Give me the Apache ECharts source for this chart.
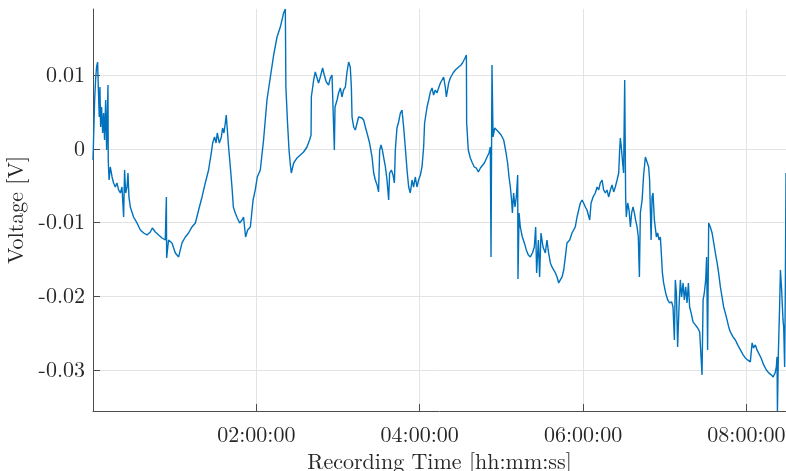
<!DOCTYPE html>
<html>
<head>
<meta charset="utf-8">
<script src="https://cdn.jsdelivr.net/npm/echarts@6/dist/echarts.min.js"></script>
<style>html,body{margin:0;padding:0;background:#fff;}#c{width:786px;height:471px;}</style>
</head>
<body>
<div id="c"></div>
<script>
// Recording time in minutes since start
const timeMin = [
0.0,0.4,1.2,1.9,2.6,3.4,3.9,4.6,5.1,5.6,6.3,7.1,7.8,8.5,9.3,10.0,11.0,11.2,11.8,12.7,
14.0,15.1,16.4,17.6,18.8,20.1,21.3,22.5,23.2,24.0,25.0,25.7,26.4,27.4,29.8,32.3,34.8,37.2,39.7,42.1,
43.6,45.8,48.2,50.7,53.1,53.9,54.1,55.5,58.0,60.5,62.9,65.4,67.8,70.2,72.7,75.2,77.6,80.1,82.5,84.9,
86.9,87.9,89.3,90.4,91.3,92.8,94.3,95.2,96.2,97.2,97.9,98.7,99.6,100.9,102.1,103.1,104.5,106.0,107.7,109.5,
110.6,112.1,113.6,115.6,117.6,119.2,120.7,122.9,125.3,127.8,130.3,132.7,135.2,137.6,140.0,141.3,141.7,142.8,144.0,145.0,
145.7,147.4,149.9,152.3,154.7,157.2,159.1,160.2,160.4,162.1,163.3,164.6,165.7,167.0,168.7,169.9,171.4,173.1,174.3,175.6,
176.8,177.3,177.8,179.3,180.4,181.7,182.9,184.1,185.4,186.6,187.8,189.0,189.8,190.3,191.5,192.7,194.0,195.1,196.4,197.6,
198.8,200.1,201.3,203.2,205.0,206.2,207.4,208.7,209.8,210.6,211.6,212.6,213.5,214.8,216.0,217.2,217.9,219.2,220.4,221.4,
222.1,223.3,224.5,225.8,227.0,228.2,229.4,230.7,231.9,233.1,234.4,235.5,236.8,238.0,239.2,240.5,241.7,242.9,243.6,245.4,
246.6,247.8,249.1,250.2,251.5,252.7,253.9,255.2,257.6,258.8,259.6,261.3,262.5,264.5,266.2,267.4,268.6,270.4,271.8,273.3,
274.3,274.5,275.7,277.2,278.7,280.1,281.6,283.1,284.6,286.0,287.5,289.5,290.9,291.9,292.4,293.1,293.9,295.1,296.3,298.0,
299.8,301.7,303.1,304.6,305.6,306.6,307.5,308.1,309.0,310.0,311.0,312.0,312.2,313.0,313.9,315.4,316.9,318.3,319.8,321.3,
322.8,324.2,325.2,325.9,327.2,328.1,329.1,330.6,332.3,333.5,334.7,336.0,337.2,338.4,339.7,340.9,342.1,343.3,344.6,345.8,
347.0,348.2,350.2,351.9,353.1,354.3,355.6,356.8,358.0,359.3,360.4,361.7,362.9,364.9,365.9,367.4,369.0,370.3,371.5,372.7,
374.0,375.1,376.4,377.6,378.8,380.1,381.3,382.5,383.7,385.0,386.2,386.9,387.4,388.1,388.9,389.8,390.6,391.3,391.8,392.8,
393.8,394.8,395.7,396.7,397.7,398.6,399.7,400.6,401.4,402.1,403.4,404.5,405.8,407.0,408.2,408.9,410.0,410.7,411.4,412.4,
413.9,414.8,415.8,416.8,417.5,418.3,419.2,420.7,422.2,423.6,425.1,426.1,427.1,427.8,428.6,429.5,430.5,431.5,432.4,433.5,
434.4,435.4,436.4,437.4,438.3,439.4,440.8,442.5,444.2,445.7,446.7,447.4,448.2,449.1,450.1,450.8,451.5,452.3,453.5,454.8,
456.0,457.2,458.5,459.6,460.9,462.1,463.3,464.5,465.8,467.0,468.2,470.2,471.9,473.6,475.6,477.6,479.2,480.9,482.9,484.2,
485.3,486.6,487.8,489.0,490.8,492.7,494.7,496.4,498.3,499.6,501.1,502.0,502.5,502.8,503.5,504.4,505.0,505.9,506.9,507.4,
508.1,508.6,509.1
];
// Voltage in volts
const voltage = [
-0.00149,0.00122,0.00665,0.00936,0.01113,0.01180,0.00841,0.00434,0.00841,0.00299,0.00570,0.00217,0.00488,0.00122,0.00665,-0.00014,0.00868,-0.00149,-0.00421,-0.00244,
-0.00380,-0.00461,-0.00516,-0.00461,-0.00556,-0.00597,-0.00516,-0.00923,-0.00285,-0.00597,-0.00516,-0.00326,-0.00651,-0.00787,-0.00923,-0.01004,-0.01099,-0.01140,-0.01167,-0.01126,
-0.01072,-0.01126,-0.01167,-0.01208,-0.01235,-0.00651,-0.01479,-0.01235,-0.01275,-0.01411,-0.01465,-0.01275,-0.01194,-0.01140,-0.01058,-0.01004,-0.00828,-0.00651,-0.00461,-0.00285,
-0.00054,0.00081,0.00163,0.00081,0.00217,0.00081,0.00163,0.00285,0.00217,0.00353,0.00461,0.00258,0.00027,-0.00244,-0.00516,-0.00787,-0.00868,-0.00936,-0.01004,-0.00963,
-0.00923,-0.01194,-0.01099,-0.01058,-0.00692,-0.00556,-0.00380,-0.00285,0.00122,0.00665,0.00977,0.01275,0.01520,0.01655,0.01845,0.01900,0.00841,0.00393,-0.00014,-0.00217,
-0.00326,-0.00190,-0.00122,-0.00081,-0.00041,0.00027,0.00122,0.00190,0.00706,0.00936,0.01045,0.00963,0.00896,0.00977,0.01099,0.01004,0.00909,0.00868,0.00963,0.01004,
0.01031,-0.00014,0.00570,0.00665,0.00760,0.00828,0.00706,0.00801,0.00841,0.01045,0.01180,0.01113,0.00841,0.00434,0.00299,0.00258,0.00353,0.00434,0.00434,0.00421,
0.00393,0.00299,0.00217,0.00081,-0.00109,-0.00326,-0.00421,-0.00488,-0.00583,-0.00014,0.00054,-0.00014,-0.00109,-0.00244,-0.00421,-0.00692,-0.00326,-0.00285,-0.00353,-0.00461,
-0.00014,0.00285,0.00366,0.00488,0.00529,0.00299,0.00027,-0.00285,-0.00516,-0.00597,-0.00421,-0.00516,-0.00380,-0.00516,-0.00421,-0.00353,-0.00244,0.00027,0.00353,0.00570,
0.00665,0.00773,0.00828,0.00733,0.00801,0.00760,0.00828,0.00896,0.00977,0.00841,0.00706,0.00896,0.00963,0.01031,0.01072,0.01045,0.01113,0.01140,0.01180,0.01235,
0.01275,0.00353,-0.00014,-0.00122,-0.00190,-0.00244,-0.00258,-0.00312,-0.00258,-0.00244,-0.00190,-0.00109,-0.00054,0.00027,-0.01465,0.01140,0.00163,0.00285,0.00258,0.00231,
0.00190,0.00122,-0.00014,-0.00190,-0.00380,-0.00516,-0.00692,-0.00868,-0.00597,-0.00787,-0.00651,-0.00353,-0.01764,-0.00868,-0.01058,-0.01194,-0.01275,-0.01370,-0.01438,-0.01465,
-0.01411,-0.01330,-0.01058,-0.01682,-0.01235,-0.01737,-0.01140,-0.01330,-0.01411,-0.01235,-0.01411,-0.01547,-0.01601,-0.01642,-0.01682,-0.01737,-0.01818,-0.01777,-0.01737,-0.01642,
-0.01465,-0.01275,-0.01235,-0.01140,-0.01099,-0.01058,-0.00923,-0.00828,-0.00733,-0.00692,-0.00733,-0.00787,-0.00828,-0.00963,-0.00733,-0.00651,-0.00597,-0.00516,-0.00556,-0.00461,
-0.00421,-0.00556,-0.00597,-0.00556,-0.00651,-0.00556,-0.00488,-0.00583,-0.00516,-0.00421,-0.00326,-0.00014,0.00149,0.00027,-0.00149,-0.00326,0.00936,-0.00651,-0.00923,-0.00733,
-0.00828,-0.01058,-0.00868,-0.00787,-0.00868,-0.00963,-0.01058,-0.01194,-0.01737,-0.00868,-0.00692,-0.00353,-0.00109,-0.00109,-0.00244,-0.00421,-0.01235,-0.00651,-0.00597,-0.00963,
-0.01194,-0.01140,-0.01235,-0.01194,-0.01411,-0.01682,-0.01818,-0.01954,-0.02049,-0.02090,-0.02076,-0.02144,-0.02592,-0.01777,-0.01954,-0.02687,-0.02144,-0.01777,-0.02008,-0.01818,
-0.02049,-0.01872,-0.02090,-0.01818,-0.02144,-0.02225,-0.02347,-0.02388,-0.02429,-0.02483,-0.02497,-0.03066,-0.02049,-0.01954,-0.01777,-0.01465,-0.02727,-0.01004,-0.01058,-0.01140,
-0.01275,-0.01411,-0.01547,-0.01682,-0.01872,-0.02008,-0.02144,-0.02225,-0.02320,-0.02415,-0.02483,-0.02551,-0.02592,-0.02659,-0.02727,-0.02795,-0.02836,-0.02863,-0.02890,-0.02632,
-0.02700,-0.02659,-0.02727,-0.02754,-0.02836,-0.02931,-0.02999,-0.03039,-0.03066,-0.03094,-0.03039,-0.02958,-0.02822,-0.03555,-0.02768,-0.02144,-0.01642,-0.01913,-0.02320,-0.02415,
-0.02958,-0.01913,-0.00326
];
const xTickMinutes = [120, 240, 360, 480];
const yTickValues = [-0.03, -0.02, -0.01, 0, 0.01];
const xRange = [0, 509.1];
const yRange = [-0.03556, 0.0190];

function fmtTime(m) {
  const s = Math.round(m * 60);
  const hh = Math.floor(s / 3600), mm = Math.floor((s % 3600) / 60), ss = s % 60;
  const p = n => String(n).padStart(2, '0');
  return p(hh) + ':' + p(mm) + ':' + p(ss);
}

const chart = echarts.init(document.getElementById('c'), null, {renderer: 'canvas'});
const font = "'Latin Modern Roman','CMU Serif','Liberation Serif',serif";
const textColor = '#262626';
chart.setOption({
  animation: false,
  backgroundColor: '#ffffff',
  grid: {left: 93, right: 0, top: 9, bottom: 60, containLabel: false, outerBoundsMode: 'none'},
  xAxis: {
    type: 'value', min: xRange[0], max: xRange[1],
    name: 'Recording Time [hh:mm:ss]', nameLocation: 'middle', nameGap: 37,
    nameTextStyle: {fontFamily: font, fontSize: 22, color: textColor},
    axisLine: {show: true, onZero: false, lineStyle: {color: '#4d4d4d', width: 1}},
    axisTick: {show: true, inside: true, length: 7, customValues: xTickMinutes, lineStyle: {color: '#4d4d4d'}},
    axisLabel: {customValues: xTickMinutes, formatter: fmtTime, fontFamily: font, fontSize: 22, color: textColor, margin: 13},
    splitLine: {show: true, lineStyle: {color: '#e3e3e3', width: 1}}
  },
  yAxis: {
    type: 'value', min: yRange[0], max: yRange[1],
    name: 'Voltage [V]', nameLocation: 'middle', nameGap: 64,
    nameTextStyle: {fontFamily: font, fontSize: 22, color: textColor},
    axisLine: {show: true, onZero: false, lineStyle: {color: '#4d4d4d', width: 1}},
    axisTick: {show: true, inside: true, length: 7, customValues: yTickValues, lineStyle: {color: '#4d4d4d'}},
    axisLabel: {customValues: yTickValues, formatter: v => String(+v.toFixed(4)), fontFamily: font, fontSize: 22, color: textColor, margin: 8},
    splitLine: {show: true, lineStyle: {color: '#e3e3e3', width: 1}}
  },
  series: [{
    type: 'line',
    data: timeMin.map((t, i) => [t, voltage[i]]),
    showSymbol: false,
    symbol: 'none',
    clip: true,
    lineStyle: {color: '#0072BD', width: 1.4},
    itemStyle: {color: '#0072BD'}
  }]
});
</script>
</body>
</html>
